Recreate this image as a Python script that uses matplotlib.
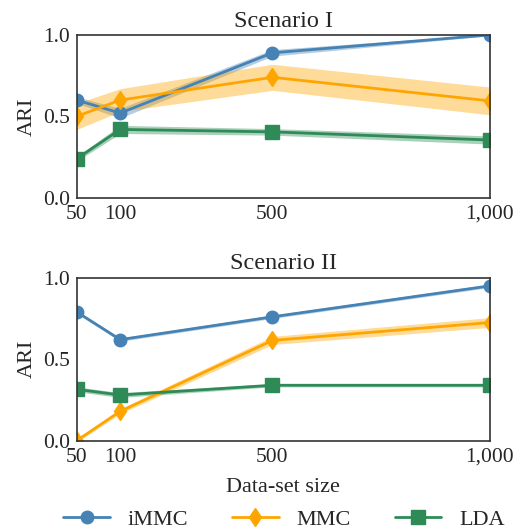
import numpy as np
import matplotlib.pyplot as plt
import seaborn as sns

sns.set_style('white')
plt.rcParams['font.family'] = ['Liberation Serif', 'DejaVu Serif']

# data-set sizes; the 100 point sits a bit further out so its label clears "50"
x_pos = [50, 150, 500, 1000]
size_labels = ['50', '100', '500', '1,000']
methods = ['iMMC', 'MMC', 'LDA']
colors = ['steelblue', 'orange', 'seagreen']
markers = ['o', 'd', 's']

# mean ARI per method, scenario I
ari_1 = {
    'iMMC': [0.60, 0.52, 0.89, 1.00],
    'MMC': [0.50, 0.60, 0.74, 0.595],
    'LDA': [0.24, 0.42, 0.405, 0.355],
}
err_1 = {
    'iMMC': [0.02, 0.03, 0.02, 0.005],
    'MMC': [0.08, 0.07, 0.08, 0.085],
    'LDA': [0.015, 0.025, 0.02, 0.025],
}

# mean ARI per method, scenario II
ari_2 = {
    'iMMC': [0.79, 0.62, 0.76, 0.95],
    'MMC': [0.0, 0.18, 0.615, 0.725],
    'LDA': [0.315, 0.28, 0.34, 0.34],
}
err_2 = {
    'iMMC': [0.01, 0.01, 0.01, 0.01],
    'MMC': [0.01, 0.015, 0.025, 0.03],
    'LDA': [0.015, 0.015, 0.01, 0.01],
}

fig, axes = plt.subplots(2, 1, figsize=(5.29, 5.29), dpi=100)

for ax, ari, err, title in zip(axes, [ari_1, ari_2], [err_1, err_2],
                               ['Scenario I', 'Scenario II']):
    for m, c, mk in zip(methods, colors, markers):
        y = np.array(ari[m])
        e = np.array(err[m])
        ax.fill_between(x_pos, y - e, y + e, color=c, alpha=0.4, lw=0)
        ax.plot(x_pos, y, color=c, marker=mk, ms=9.5 if mk != 'o' else 9,
                lw=2, label=m)
    ax.set_xlim(50, 1000)
    ax.set_ylim(0, 1)
    ax.set_xticks(x_pos)
    ax.set_xticklabels(size_labels)
    ax.set_yticks([0, 0.5, 1.0])
    ax.set_ylabel('ARI', fontsize=16)
    ax.set_title(title, fontsize=17.5, pad=6)
    ax.tick_params(labelsize=15.5, length=0)
    ax.tick_params(axis='x', pad=5)
    ax.tick_params(axis='y', pad=5)
    for s in ax.spines.values():
        s.set_color('#333333')
        s.set_linewidth(1.2)

axes[1].set_xlabel('Data-set size', fontsize=16, labelpad=8)

handles, labels = axes[0].get_legend_handles_labels()
fig.legend(handles, labels, loc='lower center', ncol=3, frameon=False,
           fontsize=16, bbox_to_anchor=(0.537, -0.04), columnspacing=1.97,
           handlelength=2.1)

fig.subplots_adjust(left=0.145, right=0.926, top=0.934, bottom=0.167, hspace=0.49)
fig.savefig('out.png', dpi=100)
